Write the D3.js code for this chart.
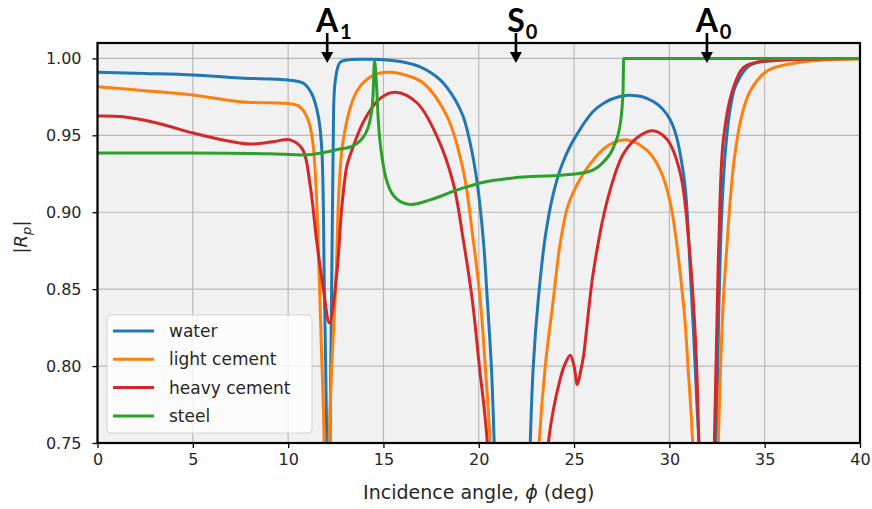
<!DOCTYPE html>
<html>
<head>
<meta charset="utf-8">
<script src="https://cdn.jsdelivr.net/npm/d3@7"></script>
<style>
  body { margin: 0; background: #fff; }
  svg { display: block; font-family: "DejaVu Sans", sans-serif; }
</style>
</head>
<body>
<svg id="chart" width="872" height="509"></svg>
<script>
// Axis ticks
const xTicks = [0, 5, 10, 15, 20, 25, 30, 35, 40];
const yTicks = [0.75, 0.80, 0.85, 0.90, 0.95, 1.00];

// Series: [incidence angle (deg), |Rp|]
const seriesNames = ["water", "light cement", "heavy cement", "steel"];
const seriesColors = ["#1f77b4", "#ff7f0e", "#d62728", "#2ca02c"];

const water = [
  [0, 0.991], [2.5, 0.9902], [5, 0.9892], [7.5, 0.9872], [10, 0.9859], [10.8, 0.9838],
  [11.24, 0.977], [11.59, 0.962], [11.77, 0.940], [11.9, 0.85], [12.03, 0.75], [12.12, 0.4],
  [12.2, 0.75], [12.36, 0.940], [12.47, 0.985], [12.73, 0.9975], [13.25, 0.9992], [14, 0.9995],
  [14.83, 0.9993], [15.88, 0.998], [16.93, 0.9945], [17.98, 0.986], [18.77, 0.973],
  [19.19, 0.962], [19.55, 0.945], [19.92, 0.919], [20.24, 0.882], [20.45, 0.843],
  [20.66, 0.80], [20.81, 0.75], [21.7, 0.3], [22.70, 0.75], [22.86, 0.80], [23.12, 0.843],
  [23.5, 0.885], [23.91, 0.912], [24.4, 0.932], [25.07, 0.949], [26.22, 0.968], [27.8, 0.976],
  [29.16, 0.972], [30.05, 0.960], [30.74, 0.925], [31.1, 0.861], [31.45, 0.774],
  [31.58, 0.74], [32.0, 0.3], [32.47, 0.75], [32.6, 0.84], [32.75, 0.9], [32.94, 0.94],
  [33.2, 0.968], [33.5, 0.983], [34.25, 0.9957], [35.98, 0.9989], [40, 0.9999]
];

const lightCement = [
  [0, 0.9816], [2.5, 0.979], [5, 0.9762], [7.48, 0.9718], [9, 0.9711], [10.0, 0.9707],
  [10.5, 0.9695], [10.8, 0.966], [11.1, 0.958], [11.3, 0.945], [11.45, 0.92], [11.6, 0.87],
  [11.75, 0.81], [11.89, 0.75], [12.0, 0.3], [12.15, 0.75], [12.49, 0.85], [12.89, 0.947],
  [13.62, 0.979], [14.46, 0.989], [15.35, 0.991], [16.2, 0.989], [17.09, 0.984],
  [18.35, 0.962], [19.19, 0.927], [19.71, 0.882], [20.08, 0.843], [20.34, 0.80],
  [20.6, 0.75], [21.9, 0.3], [23.17, 0.75], [23.49, 0.80], [23.91, 0.843], [24.25, 0.878],
  [24.65, 0.903], [25.0, 0.914], [25.7, 0.929], [26.75, 0.943], [27.8, 0.947],
  [28.84, 0.940], [29.5, 0.928], [30.05, 0.906], [30.75, 0.839], [31.0, 0.795],
  [31.22, 0.75], [31.9, 0.3], [32.57, 0.75], [32.8, 0.835], [33.0, 0.875], [33.38, 0.932],
  [33.8, 0.963], [34.25, 0.979], [35.14, 0.992], [36.88, 0.9975], [39.5, 0.9995],
  [40, 0.9996]
];

const heavyCement = [
  [0, 0.9625], [1.34, 0.962], [3.12, 0.958], [5.01, 0.9515], [6.59, 0.947], [8.0, 0.9443],
  [9.21, 0.9458], [10.1, 0.947], [10.75, 0.941], [11.15, 0.918], [11.49, 0.882],
  [11.85, 0.850], [12.17, 0.828], [12.56, 0.861], [12.82, 0.904], [13.08, 0.930],
  [13.25, 0.937], [14.0, 0.960], [14.83, 0.974], [15.62, 0.978], [16.77, 0.971],
  [17.82, 0.949], [18.66, 0.919], [19.19, 0.882], [19.66, 0.843], [20.03, 0.80],
  [20.45, 0.75], [22.0, 0.3], [23.65, 0.75], [24.28, 0.792], [24.55, 0.802], [24.8, 0.807],
  [25.0, 0.800], [25.17, 0.788], [25.35, 0.797], [25.49, 0.806], [26.01, 0.861],
  [26.75, 0.908], [27.59, 0.938], [28.48, 0.950], [29.16, 0.953], [29.9, 0.947],
  [30.58, 0.925], [31.01, 0.882], [31.37, 0.817], [31.54, 0.752], [31.95, 0.3], [32.36, 0.75],
  [32.52, 0.843], [32.6, 0.882], [32.83, 0.947], [33.31, 0.979], [33.88, 0.994],
  [34.78, 0.998], [37, 0.9995], [40, 1.0]
];

const steel = [
  [0, 0.9385], [5, 0.9385], [9, 0.938], [10.79, 0.9372], [11.84, 0.9387], [12.73, 0.9411],
  [13.25, 0.9424], [13.95, 0.949], [14.3, 0.960], [14.45, 0.975], [14.53, 0.9985],
  [14.62, 0.986], [14.74, 0.958], [15.0, 0.930], [15.35, 0.9145], [15.88, 0.907],
  [16.4, 0.905], [17.45, 0.908], [18.87, 0.9145], [20.08, 0.919], [21.81, 0.9223],
  [24.44, 0.9242], [25.7, 0.9262], [26.54, 0.9327], [27.08, 0.9426], [27.43, 0.958],
  [27.57, 0.979], [27.6, 1.0], [40, 1.0]
];

const seriesData = [water, lightCement, heavyCement, steel];

// Mode markers above the plot
const modeLetters = ["A", "S", "A"];
const modeIndices = ["1", "0", "0"];
const modeAngles = [12.05, 21.95, 31.97];

const W = 872, H = 509;
const m = { left: 97.5, right: 860, top: 43, bottom: 443 };

const svg = d3.select("#chart");
const x = d3.scaleLinear().domain([0, 40]).range([m.left, m.right]);
const y = d3.scaleLinear().domain([0.75, 1.01]).range([m.bottom, m.top]);

// Plot background
svg.append("rect")
  .attr("x", m.left).attr("y", m.top)
  .attr("width", m.right - m.left).attr("height", m.bottom - m.top)
  .attr("fill", "#f1f1f1");

// Grid
const grid = svg.append("g").attr("stroke", "#b9b9b9").attr("stroke-width", 1.2);
grid.selectAll("line.gx").data(xTicks).join("line")
  .attr("x1", d => x(d)).attr("x2", d => x(d))
  .attr("y1", m.top).attr("y2", m.bottom);
grid.selectAll("line.gy").data(yTicks).join("line")
  .attr("x1", m.left).attr("x2", m.right)
  .attr("y1", d => y(d)).attr("y2", d => y(d));

// Curves (smooth spline for the fluids, monotone for the stepped steel curve)
svg.append("clipPath").attr("id", "plotClip")
  .append("rect")
  .attr("x", m.left).attr("y", m.top)
  .attr("width", m.right - m.left).attr("height", m.bottom - m.top);

const smoothLine = d3.line()
  .x(d => x(d[0]))
  .y(d => y(d[1]))
  .curve(d3.curveCatmullRom.alpha(0.5));
const stepLine = d3.line()
  .x(d => x(d[0]))
  .y(d => y(d[1]))
  .curve(d3.curveMonotoneX);

svg.append("g").attr("clip-path", "url(#plotClip)")
  .selectAll("path").data(seriesData).join("path")
  .attr("d", (d, i) => (i === 3 ? stepLine : smoothLine)(d))
  .attr("fill", "none")
  .attr("stroke", (d, i) => seriesColors[i])
  .attr("stroke-width", 3)
  .attr("stroke-linejoin", "round");

// Axes
const xAxis = d3.axisBottom(x).tickValues(xTicks).tickFormat(d3.format("d"))
  .tickSize(5).tickPadding(6);
const yAxis = d3.axisLeft(y).tickValues(yTicks).tickFormat(d3.format(".2f"))
  .tickSize(5).tickPadding(11);

const gx = svg.append("g").attr("transform", `translate(0,${m.bottom})`).call(xAxis);
const gy = svg.append("g").attr("transform", `translate(${m.left},0)`).call(yAxis);
[gx, gy].forEach(g => {
  g.select(".domain").remove();
  g.selectAll(".tick line").attr("stroke", "#000").attr("stroke-width", 1.3);
  g.selectAll(".tick text").attr("fill", "#262626")
    .style("font-family", "'DejaVu Sans', sans-serif").style("font-size", "16px");
});

// Frame
svg.append("rect")
  .attr("x", m.left).attr("y", m.top)
  .attr("width", m.right - m.left).attr("height", m.bottom - m.top)
  .attr("fill", "none").attr("stroke", "#000").attr("stroke-width", 2.2);

// Axis labels
const xl = svg.append("text")
  .attr("x", (m.left + m.right) / 2).attr("y", 499)
  .attr("text-anchor", "middle").attr("fill", "#262626")
  .style("font-size", "19px");
xl.append("tspan").text("Incidence angle, ");
xl.append("tspan").attr("font-style", "italic").text("\u03D5");
xl.append("tspan").text(" (deg)");

const yl = svg.append("text")
  .attr("transform", `translate(27,${(m.top + m.bottom) / 2 - 6}) rotate(-90)`)
  .attr("text-anchor", "middle").attr("fill", "#262626")
  .style("font-size", "18px");
yl.append("tspan").text("|");
yl.append("tspan").attr("font-style", "italic").text("R");
yl.append("tspan").attr("font-style", "italic").attr("font-size", "13px").attr("dy", 4).text("p");
yl.append("tspan").attr("dy", -4).text("|");

// Legend
const lg = svg.append("g");
lg.append("rect")
  .attr("x", 107).attr("y", 315).attr("width", 205).attr("height", 118)
  .attr("rx", 4).attr("fill", "#fff").attr("fill-opacity", 0.8)
  .attr("stroke", "#d4d4d4").attr("stroke-width", 1);
const rows = lg.selectAll("g.row").data(seriesNames).join("g")
  .attr("transform", (d, i) => `translate(0,${331 + i * 28.3})`);
rows.append("line")
  .attr("x1", 113).attr("x2", 154).attr("y1", 0).attr("y2", 0)
  .attr("stroke", (d, i) => seriesColors[i]).attr("stroke-width", 3);
rows.append("text")
  .attr("x", 169).attr("y", 6)
  .attr("fill", "#262626").style("font-size", "17px")
  .text(d => d);

// Mode markers: label with subscript and a downward arrow
const marks = svg.append("g");
modeAngles.forEach((a, i) => {
  const cx = x(a);
  const tipY = y(0.997);
  marks.append("line")
    .attr("x1", cx).attr("x2", cx).attr("y1", 33).attr("y2", tipY - 8)
    .attr("stroke", "#000").attr("stroke-width", 2.6);
  marks.append("path")
    .attr("d", `M${cx - 6},${tipY - 11} L${cx + 6},${tipY - 11} L${cx},${tipY} Z`)
    .attr("fill", "#000");
  const t = marks.append("text")
    .attr("x", cx).attr("y", 31.5)
    .attr("text-anchor", "middle")
    .style("font-family", "Lato, 'Open Sans', sans-serif")
    .style("font-weight", 700).style("font-size", "32px").attr("fill", "#000")
    .text(modeLetters[i]);
  const bb = t.node().getBBox();
  marks.append("text")
    .attr("x", bb.x + bb.width + 1).attr("y", 38.5)
    .style("font-family", "Lato, 'Open Sans', sans-serif")
    .style("font-weight", 700).style("font-size", "20px").attr("fill", "#000")
    .text(modeIndices[i]);
});
</script>
</body>
</html>
